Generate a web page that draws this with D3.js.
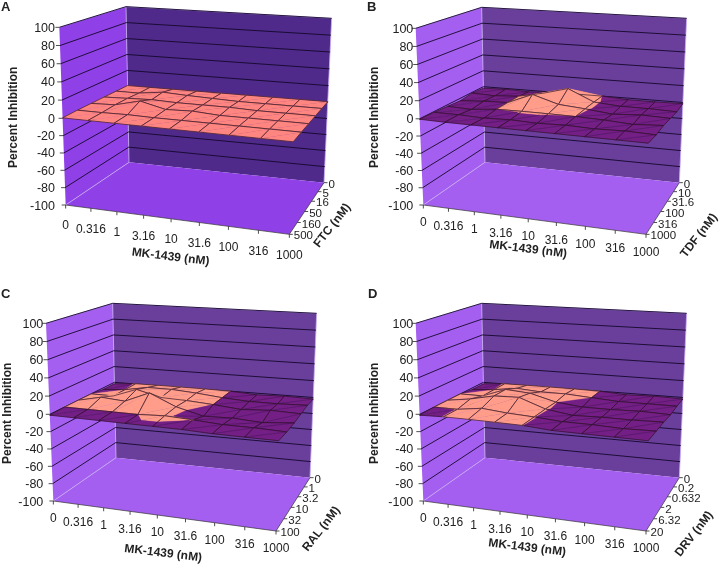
<!DOCTYPE html>
<html><head><meta charset="utf-8">
<script src="https://cdn.jsdelivr.net/npm/d3@7/dist/d3.min.js"></script>
<style>html,body{margin:0;padding:0;background:#fff}svg{display:block;filter:blur(.3px)}text{font-family:"Liberation Sans",Arial,sans-serif;fill:#222}</style>
</head><body><svg id="c" width="720" height="565"></svg>
<script>
const mkLabels=["0","0.316","1","3.16","10","31.6","100","316","1000"];
const zTicks=[100,80,60,40,20,0,-20,-40,-60,-80,-100];
const ftcLabels=["0","5","16","50","160","500"];
const tdfLabels=["0","10","31.6","100","316","1000"];
const ralLabels=["0","1","3.2","10","32","100"];
const drvLabels=["0","0.2","0.632","2","6.32","20"];
// rows: back (first depth label) to front; columns: MK-1439 categories
const valuesA=[
 [1,1,1,1,1,1,1,1,1],
 [1,1,4.5,3,2,1,1,1,1],
 [1,2,3,2,2,2,1,1,1],
 [1,2,9,2,3,1,1,1,1],
 [1,1,1.5,1,1,1,1,1,1],
 [.5,.5,.5,.5,.5,.5,.5,.5,.5]];
const valuesB=[
 [-2,-1,-2,-.5,0,0,-2,-2,-1.5],
 [-1,-2,0,6,14,.5,-2,-2,-3],
 [-3,-1,0,12,3,.5,-3,-1,-2],
 [-2,-3,0,.3,.3,0,-1,-3,-1],
 [-1,-1,-2,-1,-2,-1,-2,-1,-2],
 [-.5,-1,-1,-1,-1,-1,-1,-1,-1]];
const valuesC=[
 [-2,.3,.5,.5,.5,0,-2,-1,-2],
 [-2,.1,5,5,3,0,-2,-2,-1],
 [0,0,10,3,2,0,-3,-1,-2],
 [0,6,4,16,3,-5,-4,-6,-3],
 [0,0,0,0,1.5,.1,-2,-2,-3],
 [-1,-1,-1,-1,-1,-1,-2,-2,-2]];
const valuesD=[
 [-2,.3,.5,.5,.5,0,-2,-1,-2],
 [-2,.1,4,2,2,0,-2,-2,-2],
 [0,0,10,8,.2,-3,-3,-2,-3],
 [0,4,10,11,.5,-4,-3,-3,-2],
 [0,.1,4,1.5,.2,-2,-2,-3,-2],
 [-1,.1,.3,.3,.1,-2,-2,-2,-2]];

const panels=[
 {letter:"A",lx:1,ly:11,ox:0,oy:0,depth:ftcLabels,values:valuesA,dtitle:"FTC (nM)",
  fb:[[197,615],[868,703],[972,548],[387,487]],ft:[[178,82],[892,137],[995,55],[378,20]],
  yr:165,xd:20,xt:[512,768],dt:[995,675],yt:[38,352],
  wall:"#8f40e6",floor:"#8f40e6",back:"#4f2a8a",pink:"#ff8680"},
 {letter:"B",lx:7,ly:11,ox:360,oy:0,depth:tdfLabels,values:valuesB,dtitle:"TDF (nM)",
  fb:[[190,615],[858,703],[958,548],[375,487]],ft:[[167,85],[872,137],[980,55],[365,22]],
  yr:160,xd:17,xt:[505,745],dt:[1015,705],yt:[40,352],
  wall:"#a55ff0",floor:"#a55ff0",back:"#6a3f9c",pink:"#ff9c8a"},
 {letter:"C",lx:1,ly:13,ox:0,oy:285,depth:ralLabels,values:valuesC,dtitle:"RAL (nM)",
  fb:[[160,648],[828,738],[930,578],[348,518]],ft:[[138,115],[845,172],[950,85],[338,55]],
  yr:130,xd:17,xt:[490,802],dt:[962,730],yt:[20,385],
  wall:"#a55ff0",floor:"#a55ff0",back:"#6a3f9c",pink:"#ff9c8a"},
 {letter:"D",lx:8,ly:13,ox:360,oy:285,depth:drvLabels,values:valuesD,dtitle:"DRV (nM)",
  fb:[[190,648],[858,738],[958,578],[375,518]],ft:[[167,115],[872,172],[980,85],[365,55]],
  yr:160,xd:17,xt:[502,785],dt:[1000,745],yt:[40,385],
  wall:"#a55ff0",floor:"#a55ff0",back:"#6a3f9c",pink:"#ff9c8a"}
];

function homography(p){
 const [[x0,y0],[x1,y1],[x2,y2],[x3,y3]]=p;
 const dx1=x1-x2,dx2=x3-x2,sx=x0-x1+x2-x3,dy1=y1-y2,dy2=y3-y2,sy=y0-y1+y2-y3;
 const den=dx1*dy2-dx2*dy1;
 const g=(sx*dy2-dx2*sy)/den,h=(dx1*sy-sx*dy1)/den;
 const a=x1-x0+g*x1,b=x3-x0+h*x3,d=y1-y0+g*y1,e=y3-y0+h*y3;
 return (u,v)=>{const w=g*u+h*v+1;return [(a*u+b*v+x0)/w,(d*u+e*v+y0)/w];};
}
const svg=d3.select("#c");
const line=d3.line();
const closed=pts=>line(pts)+"Z";
const uScale=d3.scalePoint().domain(d3.range(mkLabels.length)).range([0,1]);
const vScale=d3.scalePoint().domain(d3.range(6)).range([1,0]);
const zScale=d3.scaleLinear().domain([-100,0,100]).range([0,.488,1]);
const THRESH=0;

function clip(tri,above){
 const out=[];
 for(let i=0;i<3;i++){
  const a=tri[i],b=tri[(i+1)%3];
  const ia=above?a.z>=THRESH:a.z<THRESH, ib=above?b.z>=THRESH:b.z<THRESH;
  if(ia)out.push(a);
  if(ia!==ib){const t=(THRESH-a.z)/(b.z-a.z);out.push({u:a.u+t*(b.u-a.u),v:a.v+t*(b.v-a.v),z:THRESH});}
 }
 return out;
}

panels.forEach(P=>{
 const g=svg.append("g");
 const s=(q)=>[P.ox+q[0]/3,P.oy+q[1]/3];
 const F=homography(P.fb.map(s)),T=homography(P.ft.map(s));
 const proj=(u,v,z)=>{const a=F(u,v),b=T(u,v),t=zScale(z);return [a[0]+t*(b[0]-a[0]),a[1]+t*(b[1]-a[1])];};
 const Z0=-100,Z1=100;
 g.append("path").attr("d",closed([proj(0,0,Z0),proj(0,0,Z1),proj(0,1,Z1),proj(0,1,Z0)])).attr("fill",P.wall);
 g.append("path").attr("d",closed([proj(0,1,Z0),proj(0,1,Z1),proj(1,1,Z1),proj(1,1,Z0)])).attr("fill",P.back);
 g.append("path").attr("d",closed([proj(0,0,Z0),proj(1,0,Z0),proj(1,1,Z0),proj(0,1,Z0)])).attr("fill",P.floor);
 const edges=[[proj(0,0,Z0),proj(0,1,Z0)],[proj(0,1,Z0),proj(0,1,Z1)],[proj(1,1,Z0),proj(1,1,Z1)],[proj(0,1,Z1),proj(1,1,Z1)],[proj(0,1,Z1),proj(0,0,Z1)]];
 g.selectAll("path.e").data(edges).join("path").attr("class","e").attr("d",line).attr("fill","none").attr("stroke","#c9aef2").attr("stroke-width",.8);
 const gz=zTicks.filter(z=>z>-100);
 g.selectAll("path.g").data(gz).join("path").attr("class","g")
  .attr("d",z=>line([proj(0,0,z),proj(0,1,z),proj(1,1,z)]))
  .attr("fill","none").attr("stroke","#14082a").attr("stroke-width",.9);
 g.selectAll("path.tz").data(zTicks).join("path").attr("class","tz")
  .attr("d",z=>{const p=proj(0,0,z);return line([[p[0]-4,p[1]],p]);}).attr("stroke","#222").attr("stroke-width",.8);
 mkLabels.forEach((_,i)=>{const p=proj(uScale(i),0,Z0);
  g.append("path").attr("d",line([p,[p[0],p[1]+3.5]])).attr("stroke","#222").attr("stroke-width",.8);});
 d3.range(6).forEach(i=>{const p=proj(1,vScale(i),Z0);
  g.append("path").attr("d",line([p,[p[0]+3.5,p[1]]])).attr("stroke","#222").attr("stroke-width",.8);});
 g.append("path").attr("d",line([proj(0,0,Z0),proj(1,0,Z0),proj(1,1,Z0)])).attr("fill","none").attr("stroke","#333").attr("stroke-width",.7);
 const node=(r,c)=>({u:uScale(c),v:vScale(r),z:P.values[r][c]});
 const P3=n=>proj(n.u,n.v,n.z);
 for(let r=0;r<5;r++)for(let c=0;c<8;c++){
  const bl=node(r,c),br=node(r,c+1),fl=node(r+1,c),fr=node(r+1,c+1);
  [[fl,br,bl],[fl,fr,br]].forEach(tri=>{
   [[true,P.pink],[false,"#731f85"]].forEach(([ab,col])=>{
    const poly=clip(tri,ab);
    if(poly.length>2)g.append("path").attr("d",closed(poly.map(P3))).attr("fill",col).attr("stroke",col).attr("stroke-width",.3);
   });
  });
  const lo=[fl,br].filter(n=>n.z<THRESH);
  if(lo.length){
   let a=fl,b=br;
   if(lo.length===1){const t=(THRESH-fl.z)/(br.z-fl.z);const m={u:fl.u+t*(br.u-fl.u),v:fl.v+t*(br.v-fl.v),z:THRESH};a=lo[0];b=m;}
   g.append("path").attr("d",line([P3(a),P3(b)])).attr("fill","none").attr("stroke","#3a1048").attr("stroke-width",.4);
  }
  g.append("path").attr("d",closed([bl,br,fr,fl].map(P3))).attr("fill","none").attr("stroke","#2a1020").attr("stroke-width",.65);
 }
 g.selectAll("text.z").data(zTicks).join("text").attr("class","z")
  .attr("x",P.ox+P.yr/3).attr("y",z=>proj(0,0,z)[1]).attr("dy",".36em")
  .attr("text-anchor","end").attr("font-size",12.5).text(d=>d);
 g.selectAll("text.x").data(mkLabels).join("text").attr("class","x")
  .attr("x",(d,i)=>proj(uScale(i),0,Z0)[0]).attr("y",(d,i)=>proj(uScale(i),0,Z0)[1]+P.xd).attr("dy",".36em")
  .attr("text-anchor","middle").attr("font-size",12).text(d=>d);
 g.selectAll("text.d").data(P.depth).join("text").attr("class","d")
  .attr("x",(d,i)=>proj(1,vScale(i),Z0)[0]+4.5).attr("y",(d,i)=>proj(1,vScale(i),Z0)[1]+1).attr("dy",".36em")
  .attr("font-size",11.5).text(d=>d);
 const title=(q,ang,txt)=>{const p=s(q);
  g.append("text").attr("transform",`translate(${p[0]},${p[1]}) rotate(${ang})`).attr("dy",".36em")
   .attr("text-anchor","middle").attr("font-size",12).attr("font-weight","bold").text(txt);};
 title(P.xt,7,"MK-1439 (nM)");
 title(P.dt,-52,P.dtitle);
 title(P.yt,-90,"Percent Inhibition");
 g.append("text").attr("x",P.ox+P.lx).attr("y",P.oy+P.ly).attr("font-size",13).attr("font-weight","bold").text(P.letter);
});
</script></body></html>
